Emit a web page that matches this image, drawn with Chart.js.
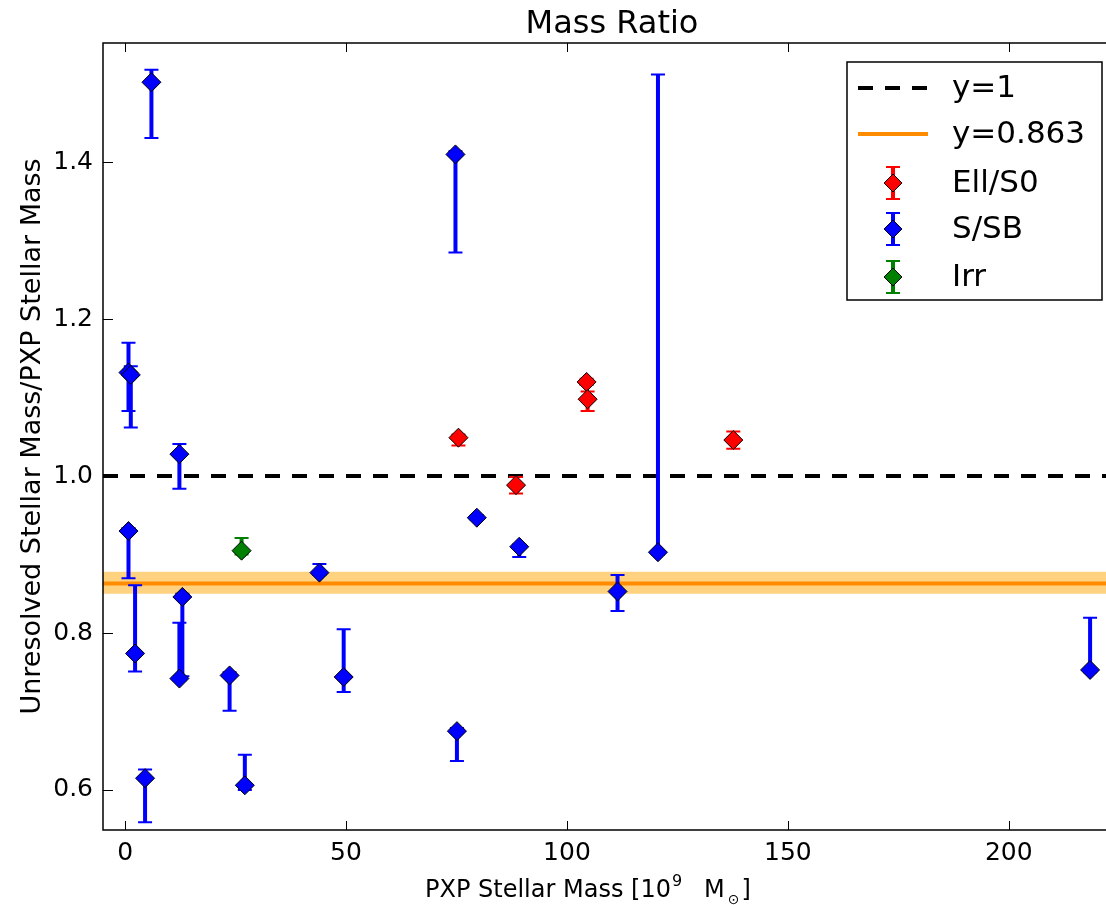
<!DOCTYPE html>
<html>
<head>
<meta charset="utf-8">
<script src="https://cdn.jsdelivr.net/npm/chart.js@4"></script>
<style>
  body { margin: 0; background: #fff; }
</style>
</head>
<body>
<canvas id="mass-ratio" width="1106" height="905"></canvas>
<script>
// S/SB galaxies: x, ratio, lower / upper end of error bar
const spiralX  = [5.96, 0.77, 1.29, 12.29, 0.77, 2.26, 4.52, 12.96, 12.29, 23.65, 27.10, 43.98, 49.47, 74.77, 75.10, 79.60, 89.20, 120.60, 111.45, 218.40];
const spiralY  = [1.502, 1.132, 1.129, 1.028, 0.930, 0.774, 0.615, 0.846, 0.742, 0.746, 0.606, 0.877, 0.744, 1.410, 0.675, 0.947, 0.910, 0.903, 0.853, 0.753];
const spiralLo = [1.431, 1.083, 1.062, 0.984, 0.870, 0.751, 0.559, 0.745, 0.740, 0.701, 0.600, 0.874, 0.725, 1.285, 0.637, 0.944, 0.897, 0.900, 0.828, 0.750];
const spiralHi = [1.518, 1.170, 1.140, 1.041, 0.934, 0.861, 0.626, 0.850, 0.813, 0.750, 0.645, 0.888, 0.805, 1.414, 0.679, 0.950, 0.913, 1.512, 0.874, 0.8195];

// Ell/S0
const ellX  = [75.45, 104.45, 104.68, 88.48, 137.65];
const ellY  = [1.049, 1.120, 1.098, 0.9885, 1.046];
const ellLo = [1.039, 1.116, 1.083, 0.978, 1.035];
const ellHi = [1.053, 1.124, 1.108, 0.999, 1.057];

// Irr
const irrX  = [26.36];
const irrY  = [0.905];
const irrLo = [0.900];
const irrHi = [0.921];

// reference lines
const unityY = 1;
const fitY = 0.863;
const fitLo = 0.850;
const fitHi = 0.878;

const xRange = [-5, 222];
const yRange = [0.549, 1.552];
const xTicks = [0, 50, 100, 150, 200];
const yTicks = [0.6, 0.8, 1.0, 1.2, 1.4];

const FONT = "'DejaVu Sans', sans-serif";
Chart.defaults.font.family = FONT;
Chart.defaults.color = '#000';

function pts(xs, ys) {
  return xs.map((x, i) => ({ x: x, y: ys[i] }));
}
function hline(y) {
  return [{ x: xRange[0], y: y }, { x: xRange[1], y: y }];
}

function drawDiamond(ctx, x, y, r, color) {
  ctx.beginPath();
  ctx.moveTo(x, y - r);
  ctx.lineTo(x + r, y);
  ctx.lineTo(x, y + r);
  ctx.lineTo(x - r, y);
  ctx.closePath();
  ctx.fillStyle = color;
  ctx.fill();
  ctx.lineWidth = 1;
  ctx.strokeStyle = '#000';
  ctx.stroke();
}

function drawBar(ctx, x, yTop, yBot, color) {
  ctx.strokeStyle = color;
  ctx.lineWidth = 4;
  ctx.beginPath();
  ctx.moveTo(x, yTop);
  ctx.lineTo(x, yBot);
  ctx.stroke();
  ctx.lineWidth = 2;
  ctx.beginPath();
  ctx.moveTo(x - 7, yTop); ctx.lineTo(x + 7, yTop);
  ctx.moveTo(x - 7, yBot); ctx.lineTo(x + 7, yBot);
  ctx.stroke();
}

// error bars go under each scatter dataset's markers
const errorBars = {
  id: 'errorBars',
  beforeDatasetDraw(chart, args) {
    const ds = chart.data.datasets[args.index];
    if (!ds.errLo) return;
    const { ctx, scales: { x, y } } = chart;
    ctx.save();
    ds.data.forEach((p, i) => {
      drawBar(ctx, x.getPixelForValue(p.x), y.getPixelForValue(ds.errHi[i]), y.getPixelForValue(ds.errLo[i]), ds.barColor);
    });
    ctx.restore();
  }
};

// matplotlib-style frame, inward ticks, titles and legend
const frame = {
  id: 'frame',
  afterDraw(chart) {
    const { ctx, chartArea: a, scales: { x, y } } = chart;
    ctx.save();
    ctx.strokeStyle = '#000';
    ctx.lineWidth = 1.5;
    ctx.beginPath();
    ctx.moveTo(a.right + 2, a.top);
    ctx.lineTo(a.left, a.top);
    ctx.lineTo(a.left, a.bottom);
    ctx.lineTo(a.right + 2, a.bottom);
    ctx.stroke();

    ctx.lineWidth = 1;
    ctx.beginPath();
    xTicks.forEach(v => {
      const px = Math.round(x.getPixelForValue(v)) + 0.5;
      ctx.moveTo(px, a.bottom); ctx.lineTo(px, a.bottom - 9);
      ctx.moveTo(px, a.top); ctx.lineTo(px, a.top + 9);
    });
    yTicks.forEach(v => {
      const py = Math.round(y.getPixelForValue(v)) + 0.5;
      ctx.moveTo(a.left, py); ctx.lineTo(a.left + 10, py);
    });
    ctx.stroke();

    // title
    ctx.fillStyle = '#000';
    ctx.textAlign = 'center';
    ctx.textBaseline = 'alphabetic';
    ctx.font = '32px ' + FONT;
    ctx.fillText('Mass Ratio', 612, 33);

    // y title
    ctx.save();
    ctx.translate(40, (a.top + a.bottom) / 2);
    ctx.rotate(-Math.PI / 2);
    ctx.font = '27px ' + FONT;
    ctx.fillText('Unresolved Stellar Mass/PXP Stellar Mass', 0, 0);
    ctx.restore();

    // x title with super/subscript
    ctx.textAlign = 'left';
    const parts = [
      ['PXP Stellar Mass [10', 24, 0, 1],
      ['9', 16, -11, 22],
      ['M', 24, 0, 3],
      ['\u2299', 14, 7, 2],
      [']', 24, 0, 0]
    ];
    let tx = 425;
    parts.forEach(([t, size, dy, gap]) => {
      ctx.font = size + 'px ' + FONT;
      ctx.fillText(t, tx, 897 + dy);
      tx += ctx.measureText(t).width + gap;
    });

    // legend
    const L = { x: 847, y: 62, w: 255, h: 238 };
    ctx.fillStyle = '#fff';
    ctx.fillRect(L.x, L.y, L.w, L.h);
    ctx.lineWidth = 1.5;
    ctx.strokeStyle = '#000';
    ctx.strokeRect(L.x, L.y, L.w, L.h);
    const rows = [88, 134, 183, 229, 277];
    const labels = ['y=1', 'y=0.863', 'Ell/S0', 'S/SB', 'Irr'];
    ctx.lineWidth = 4;
    ctx.setLineDash([15, 12]);
    ctx.beginPath(); ctx.moveTo(858, rows[0]); ctx.lineTo(928, rows[0]); ctx.stroke();
    ctx.setLineDash([]);
    ctx.strokeStyle = '#ff8c00';
    ctx.beginPath(); ctx.moveTo(858, rows[1]); ctx.lineTo(928, rows[1]); ctx.stroke();
    const mk = ['#ff0000', '#0000ff', '#008000'];
    mk.forEach((c, i) => {
      const ry = rows[i + 2];
      drawBar(ctx, 893, ry - 16, ry + 16, c);
      drawDiamond(ctx, 893, ry, 9, c);
    });
    ctx.fillStyle = '#000';
    ctx.font = '31px ' + FONT;
    ctx.textBaseline = 'middle';
    labels.forEach((t, i) => ctx.fillText(t, 952, rows[i] + 1));
    ctx.restore();
  }
};

function scatterSet(label, xs, ys, lo, hi, color) {
  return {
    type: 'scatter',
    label: label,
    data: pts(xs, ys),
    errLo: lo,
    errHi: hi,
    barColor: color,
    pointStyle: 'rectRot',
    pointRadius: 9.5,
    pointBackgroundColor: color,
    pointBorderColor: '#000',
    pointBorderWidth: 1,
    order: 1
  };
}

new Chart(document.getElementById('mass-ratio'), {
  type: 'scatter',
  data: {
    datasets: [
      scatterSet('Ell/S0', ellX, ellY, ellLo, ellHi, '#ff0000'),
      scatterSet('S/SB', spiralX, spiralY, spiralLo, spiralHi, '#0000ff'),
      scatterSet('Irr', irrX, irrY, irrLo, irrHi, '#008000'),
      {
        type: 'line', label: 'y=1', data: hline(unityY),
        borderColor: '#000', borderWidth: 4, borderDash: [15, 12],
        pointRadius: 0, order: 2
      },
      {
        type: 'line', label: 'y=0.863', data: hline(fitY),
        borderColor: '#ff8c00', borderWidth: 4,
        pointRadius: 0, order: 3
      },
      {
        type: 'line', label: 'band hi', data: hline(fitHi),
        borderWidth: 0, backgroundColor: 'rgba(255,165,0,0.5)', fill: '+1',
        pointRadius: 0, order: 4
      },
      {
        type: 'line', label: 'band lo', data: hline(fitLo),
        borderWidth: 0, pointRadius: 0, order: 5
      }
    ]
  },
  options: {
    responsive: false,
    animation: false,
    devicePixelRatio: 1,
    layout: { autoPadding: false, padding: { top: 43, left: 0, right: 0, bottom: 0 } },
    plugins: {
      legend: { display: false },
      tooltip: { enabled: false }
    },
    scales: {
      x: {
        type: 'linear',
        min: xRange[0],
        max: xRange[1],
        afterBuildTicks: s => { s.ticks = xTicks.map(v => ({ value: v })); },
        afterFit: s => { s.height = 75; s.paddingLeft = 0; s.paddingRight = 0; },
        grid: { display: false, drawTicks: false },
        border: { display: false },
        ticks: { font: { size: 25 }, padding: 8, maxRotation: 0 }
      },
      y: {
        type: 'linear',
        min: yRange[0],
        max: yRange[1],
        afterBuildTicks: s => { s.ticks = yTicks.map(v => ({ value: v })); },
        afterFit: s => { s.width = 103; s.paddingTop = 0; s.paddingBottom = 0; },
        grid: { display: false, drawTicks: false },
        border: { display: false },
        ticks: { font: { size: 25 }, padding: 10, callback: v => v.toFixed(1) }
      }
    }
  },
  plugins: [errorBars, frame]
});
</script>
</body>
</html>
